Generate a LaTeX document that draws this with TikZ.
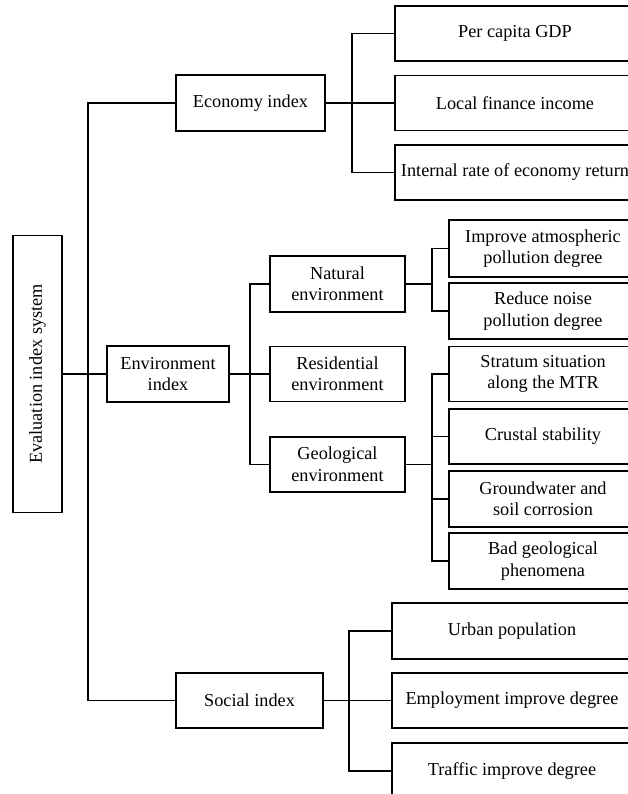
\documentclass[tikz,border=0pt]{standalone}
\usepackage{fontspec}
\setmainfont{Liberation Serif}
\begin{document}
\begin{tikzpicture}[x=1pt,y=-1pt,
    box/.style={draw, line width=1.1pt, inner sep=0pt, align=center,
      minimum height=55pt, font=\fontsize{18.25}{21.5}\selectfont},
    link/.style={line width=1.1pt}]
    \useasboundingbox (0,0) rectangle (628,794);
    \clip (0,0) rectangle (628,794);

    % root and first level
    \node[box, minimum width=49pt, minimum height=277pt] (root) at (37.5,374)
      {\rotatebox{90}{Evaluation index system}};
    \node[box, minimum width=149pt, minimum height=56pt] (eco) at (250.5,103) {Economy index};
    \node[box, minimum width=122pt, minimum height=56pt] (env) at (168,374) {Environment\\index};
    \node[box, minimum width=147pt] (soc) at (249.5,700.5) {Social index};

    % economy
    \node[box, minimum width=240pt] (gdp) at (515,33.5) {Per capita GDP};
    \node[box, minimum width=240pt] (fin) at (515,103) {Local finance income};
    \node[box, minimum width=240pt] (irr) at (515,172.5) {Internal rate of economy return};

    % environment
    \node[box, minimum width=135pt, minimum height=56pt] (nat) at (337.5,284) {Natural\\environment};
    \node[box, minimum width=135pt] (res) at (337.5,374) {Residential\\environment};
    \node[box, minimum width=135pt] (geo) at (337.5,464.5) {Geological\\environment};

    \node[box, minimum width=188pt, minimum height=57pt] (atm) at (543,248.5) {Improve atmospheric\\pollution degree};
    \node[box, minimum width=188pt, minimum height=56pt] (noise) at (543,311) {Reduce noise\\pollution degree};
    \node[box, minimum width=188pt] (stra) at (543,374) {Stratum situation\\along the MTR};
    \node[box, minimum width=188pt] (crust) at (543,436.5) {Crustal stability};
    \node[box, minimum width=188pt, minimum height=56pt] (water) at (543,499) {Groundwater and\\soil corrosion};
    \node[box, minimum width=188pt, minimum height=56pt] (bad) at (543,561) {Bad geological\\phenomena};

    % social
    \node[box, minimum width=240pt, minimum height=56pt] (urb) at (512,631) {Urban population};
    \node[box, minimum width=240pt] (emp) at (512,700.5) {Employment improve degree};
    \node[box, minimum width=240pt, minimum height=56pt] (tra) at (512,771) {Traffic improve degree};

    % trunks
    \coordinate (ta) at (88,0);
    \coordinate (tb) at (352,0);
    \coordinate (tc) at (250,0);
    \coordinate (td) at (432,0);
    \coordinate (te) at (349,0);

    \draw[link] (root.east) -- (env.west);
    \draw[link] (eco.west) -| (ta |- soc.west) -- (soc.west);

    \draw[link] (eco.east) -- (fin.west);
    \draw[link] (gdp.west) -| (tb |- irr.west) -- (irr.west);

    \draw[link] (env.east) -- (res.west);
    \draw[link] (nat.west) -| (tc |- geo.west) -- (geo.west);

    \draw[link] (nat.east) -- (td |- nat.east);
    \draw[link] (atm.west) -| (td |- noise.west) -- (noise.west);

    \draw[link] (geo.east) -- (td |- geo.east);
    \draw[link] (stra.west) -| (td |- bad.west) -- (bad.west);
    \draw[link] (td |- crust.west) -- (crust.west);
    \draw[link] (td |- water.west) -- (water.west);

    \draw[link] (soc.east) -- (emp.west);
    \draw[link] (urb.west) -| (te |- tra.west) -- (tra.west);
\end{tikzpicture}
\end{document}
